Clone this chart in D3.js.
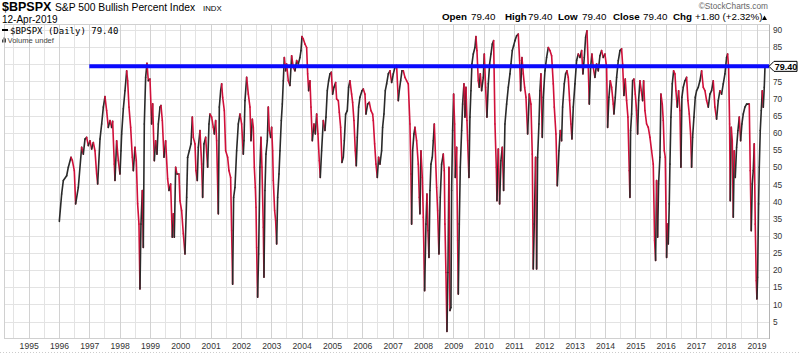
<!DOCTYPE html>
<html><head><meta charset="utf-8">
<script src="https://cdn.jsdelivr.net/npm/d3@7"></script>
<style>body{margin:0;background:#fff}svg{display:block;font-family:"Liberation Sans",Arial,sans-serif}</style>
</head><body><svg id="c" width="800" height="353"></svg>
<script>
// ---- data ----
const yearTicks = d3.range(1995, 2020);
const valueTicks = d3.range(5, 95, 5);
const lastValue = 79.40;
const refLevel = 79.40;
const refStart = 1997.0;

const p1996_2001 = [[1996.011,34.2],[1996.088,42.2],[1996.143,46.1],[1996.253,47.5],[1996.308,50.0],[1996.396,52.9],[1996.440,52.0],[1996.505,49.0],[1996.549,39.3],[1996.637,44.1],[1996.747,55.8],[1996.802,53.8],[1996.857,58.2],[1996.912,58.7],[1996.967,56.3],[1997.022,57.7],[1997.077,55.3],[1997.132,57.2],[1997.187,54.8],[1997.242,48.0],[1997.275,45.1],[1997.352,58.2],[1997.407,62.6],[1997.462,67.5],[1997.516,70.6],[1997.571,66.5],[1997.626,61.6],[1997.681,63.6],[1997.736,61.6],[1997.769,63.4],[1997.824,50.9],[1997.846,46.1],[1997.901,57.7],[1997.956,51.9],[1998.011,48.0],[1998.044,54.8],[1998.066,59.7],[1998.121,67.0],[1998.176,72.3],[1998.231,78.1],[1998.264,75.2],[1998.308,67.5],[1998.363,61.6],[1998.418,52.9],[1998.451,49.0],[1998.505,55.8],[1998.549,51.9],[1998.593,39.3],[1998.637,33.4],[1998.670,14.5],[1998.703,33.4],[1998.747,43.2],[1998.780,26.6],[1998.813,62.6],[1998.857,76.2],[1998.901,80.3],[1998.945,75.2],[1999.000,75.7],[1999.055,62.6],[1999.088,68.5],[1999.143,51.9],[1999.187,57.7],[1999.231,53.8],[1999.275,62.6],[1999.330,67.5],[1999.363,68.0],[1999.407,63.6],[1999.462,52.9],[1999.516,57.7],[1999.582,46.6],[1999.626,43.2],[1999.681,45.1],[1999.736,29.6],[1999.769,36.4],[1999.802,29.6],[1999.846,50.0],[1999.890,48.0],[1999.956,48.0],[1999.989,40.2],[2000.044,37.3],[2000.099,30.6],[2000.154,24.7],[2000.209,41.2],[2000.242,52.9],[2000.297,54.8],[2000.352,56.8],[2000.396,64.6],[2000.429,58.7],[2000.484,56.8],[2000.516,49.0],[2000.560,46.1],[2000.593,55.8],[2000.648,60.7],[2000.703,50.9],[2000.736,41.2],[2000.780,56.8],[2000.835,58.7],[2000.901,50.0],[2000.945,62.6],[2000.978,65.5],[2001.033,64.6],[2001.088,61.6],[2001.121,59.7],[2001.165,63.6],[2001.198,57.7],[2001.253,36.4],[2001.286,67.5],[2001.330,72.3],[2001.363,74.3],[2001.396,70.4],[2001.451,66.5],[2001.495,54.8],[2001.560,52.9],[2001.604,49.0],[2001.659,47.0],[2001.692,31.5],[2001.725,15.9],[2001.758,41.2],[2001.802,44.1],[2001.857,54.8],[2001.912,62.6],[2001.967,65.5]];

const p2002_2007 = [[2002.022,62.6],[2002.077,53.8],[2002.099,57.7],[2002.132,69.4],[2002.187,76.2],[2002.242,71.3],[2002.297,67.5],[2002.330,57.7],[2002.374,64.0],[2002.407,61.6],[2002.440,50.0],[2002.473,44.1],[2002.495,38.3],[2002.516,26.6],[2002.549,12.1],[2002.582,24.7],[2002.626,50.0],[2002.659,58.7],[2002.692,50.0],[2002.736,32.5],[2002.758,17.9],[2002.791,43.2],[2002.824,53.8],[2002.868,57.7],[2002.901,67.5],[2002.934,60.7],[2002.978,58.7],[2003.011,61.6],[2003.044,54.8],[2003.066,46.1],[2003.110,37.3],[2003.143,34.4],[2003.176,27.6],[2003.209,41.2],[2003.253,48.0],[2003.286,54.8],[2003.330,63.6],[2003.363,68.4],[2003.396,75.2],[2003.429,82.0],[2003.473,78.1],[2003.505,80.1],[2003.560,75.2],[2003.615,73.8],[2003.670,82.5],[2003.725,79.1],[2003.780,78.1],[2003.835,81.1],[2003.890,80.1],[2003.945,82.0],[2003.978,84.0],[2004.011,88.1],[2004.055,87.4],[2004.110,85.9],[2004.165,84.9],[2004.198,77.2],[2004.231,72.3],[2004.275,75.2],[2004.308,67.5],[2004.352,57.7],[2004.407,62.6],[2004.451,59.7],[2004.495,65.5],[2004.538,59.7],[2004.582,51.9],[2004.615,47.0],[2004.659,54.8],[2004.714,63.6],[2004.769,60.7],[2004.802,64.6],[2004.846,72.3],[2004.890,75.2],[2004.934,77.2],[2004.978,77.7],[2005.022,71.3],[2005.066,73.3],[2005.121,74.7],[2005.154,69.9],[2005.209,69.4],[2005.242,66.0],[2005.286,61.6],[2005.330,51.4],[2005.374,52.9],[2005.407,57.7],[2005.451,65.5],[2005.505,66.5],[2005.549,73.3],[2005.593,75.2],[2005.648,71.3],[2005.681,68.9],[2005.725,63.6],[2005.769,54.8],[2005.802,50.4],[2005.835,58.7],[2005.879,67.5],[2005.923,70.4],[2005.989,72.3],[2006.033,72.8],[2006.088,71.3],[2006.121,65.5],[2006.176,68.4],[2006.231,68.9],[2006.286,66.5],[2006.341,65.5],[2006.363,63.6],[2006.407,56.8],[2006.451,50.9],[2006.495,47.0],[2006.538,52.9],[2006.582,50.9],[2006.637,54.8],[2006.670,61.6],[2006.714,65.5],[2006.758,72.3],[2006.802,74.3],[2006.857,77.2],[2006.912,78.1],[2006.967,74.7],[2007.022,77.2],[2007.077,79.1],[2007.132,79.6],[2007.187,69.4],[2007.220,72.3],[2007.264,75.2],[2007.308,78.1],[2007.352,78.1],[2007.407,76.2],[2007.462,75.2],[2007.516,74.3],[2007.571,62.6],[2007.604,48.0],[2007.626,33.4],[2007.659,54.8],[2007.703,59.7],[2007.736,61.6],[2007.791,57.7],[2007.846,50.9],[2007.879,41.2],[2007.901,36.4],[2007.934,54.8],[2007.978,47.0],[2008.011,35.4],[2008.055,14.0]];

const p2008_2013 = [[2008.099,33.4],[2008.132,42.2],[2008.165,31.5],[2008.198,23.7],[2008.231,43.2],[2008.264,50.9],[2008.308,52.9],[2008.341,57.7],[2008.374,62.6],[2008.407,54.8],[2008.451,44.1],[2008.484,37.3],[2008.527,24.7],[2008.571,41.2],[2008.615,50.9],[2008.670,53.8],[2008.703,49.0],[2008.725,33.4],[2008.758,19.3],[2008.791,2.1],[2008.824,19.3],[2008.857,50.0],[2008.890,8.2],[2008.923,9.1],[2008.945,43.2],[2008.978,60.7],[2009.011,71.3],[2009.044,62.6],[2009.066,47.0],[2009.110,55.8],[2009.143,28.6],[2009.165,13.0],[2009.198,33.4],[2009.231,50.0],[2009.275,60.7],[2009.308,68.4],[2009.352,74.3],[2009.385,64.6],[2009.418,73.3],[2009.451,63.6],[2009.473,57.7],[2009.516,47.0],[2009.549,64.6],[2009.582,72.3],[2009.615,80.1],[2009.659,83.0],[2009.714,84.9],[2009.747,88.1],[2009.780,84.0],[2009.824,75.2],[2009.857,73.3],[2009.890,77.2],[2009.934,72.3],[2009.989,76.2],[2010.022,83.0],[2010.066,73.3],[2010.110,64.6],[2010.154,74.3],[2010.198,80.1],[2010.242,83.0],[2010.286,85.9],[2010.330,86.9],[2010.374,62.6],[2010.418,50.0],[2010.440,40.2],[2010.484,55.3],[2010.527,39.3],[2010.571,51.9],[2010.615,55.8],[2010.659,43.2],[2010.703,62.6],[2010.758,68.4],[2010.813,73.3],[2010.868,77.2],[2010.901,80.1],[2010.945,84.0],[2010.989,85.4],[2011.033,86.9],[2011.088,88.3],[2011.143,88.8],[2011.187,81.1],[2011.220,72.3],[2011.264,82.0],[2011.308,77.2],[2011.352,73.3],[2011.396,70.4],[2011.451,59.7],[2011.505,71.3],[2011.560,68.4],[2011.604,53.8],[2011.637,20.3],[2011.670,33.4],[2011.714,52.9],[2011.747,20.3],[2011.780,52.9],[2011.824,62.6],[2011.857,72.3],[2011.890,77.2],[2011.934,58.7],[2011.967,70.4],[2012.022,78.1],[2012.077,82.0],[2012.132,84.9],[2012.187,84.0],[2012.242,82.5],[2012.297,74.3],[2012.330,67.5],[2012.385,59.7],[2012.429,44.6],[2012.484,54.8],[2012.527,60.7],[2012.571,57.7],[2012.604,67.5],[2012.659,74.3],[2012.703,77.2],[2012.747,78.1],[2012.791,76.2],[2012.835,69.4],[2012.879,62.6],[2012.912,58.2],[2012.956,67.5],[2013.011,74.3],[2013.066,81.1],[2013.121,83.0],[2013.176,82.0],[2013.231,84.0],[2013.275,77.2],[2013.319,82.0],[2013.363,87.9],[2013.407,89.8],[2013.451,79.1],[2013.484,68.4],[2013.527,79.1],[2013.571,83.0],[2013.615,79.1],[2013.670,76.2],[2013.725,80.1],[2013.780,78.1],[2013.835,82.5],[2013.890,84.0],[2013.945,82.0],[2014.000,83.0]];

const p2014_2019 = [[2014.055,79.1],[2014.088,61.6],[2014.132,70.4],[2014.176,75.2],[2014.220,73.3],[2014.275,68.4],[2014.297,65.5],[2014.341,70.4],[2014.385,76.2],[2014.440,81.1],[2014.495,84.0],[2014.549,84.5],[2014.582,80.1],[2014.626,70.9],[2014.670,75.7],[2014.714,69.4],[2014.758,64.6],[2014.802,49.0],[2014.824,41.2],[2014.846,60.7],[2014.879,65.5],[2014.912,75.2],[2014.956,75.7],[2015.000,71.3],[2015.044,66.5],[2015.077,59.7],[2015.110,69.4],[2015.154,75.2],[2015.198,72.3],[2015.242,69.4],[2015.275,75.2],[2015.319,66.5],[2015.374,62.6],[2015.429,61.6],[2015.484,58.7],[2015.538,54.8],[2015.593,50.9],[2015.637,28.6],[2015.670,22.8],[2015.703,46.1],[2015.736,29.6],[2015.769,45.1],[2015.813,52.9],[2015.846,71.3],[2015.890,68.4],[2015.923,63.6],[2015.956,54.8],[2015.989,52.9],[2016.033,23.7],[2016.055,33.4],[2016.088,27.6],[2016.121,39.3],[2016.143,50.9],[2016.176,64.6],[2016.220,74.3],[2016.264,78.1],[2016.308,77.2],[2016.341,72.3],[2016.385,67.5],[2016.429,72.3],[2016.473,66.5],[2016.505,50.0],[2016.538,70.4],[2016.582,73.3],[2016.637,75.2],[2016.692,76.2],[2016.736,69.4],[2016.780,65.5],[2016.824,59.7],[2016.857,50.0],[2016.890,58.7],[2016.934,64.6],[2016.978,70.4],[2017.022,72.3],[2017.077,73.3],[2017.132,75.2],[2017.187,78.1],[2017.242,73.3],[2017.297,72.3],[2017.352,69.4],[2017.407,67.5],[2017.462,71.3],[2017.516,72.3],[2017.571,75.2],[2017.626,67.5],[2017.681,64.0],[2017.736,69.4],[2017.791,72.3],[2017.846,71.3],[2017.901,74.3],[2017.956,77.2],[2018.011,82.0],[2018.044,83.0],[2018.077,79.1],[2018.110,62.6],[2018.132,40.2],[2018.165,61.6],[2018.198,57.7],[2018.231,35.4],[2018.264,54.8],[2018.297,47.0],[2018.341,55.8],[2018.385,60.7],[2018.429,64.6],[2018.473,57.7],[2018.516,62.6],[2018.560,65.5],[2018.615,67.5],[2018.670,68.4],[2018.725,68.4],[2018.758,68.4],[2018.791,49.0],[2018.824,31.5],[2018.857,45.1],[2018.890,49.0],[2018.923,56.8],[2018.956,33.4],[2018.989,16.9],[2019.011,11.6],[2019.033,17.9],[2019.066,39.3],[2019.088,50.0],[2019.121,60.7],[2019.154,66.5],[2019.187,72.3],[2019.220,67.5],[2019.253,73.3],[2019.277,79.4]];

const series = [].concat(p1996_2001, p2002_2007, p2008_2013, p2014_2019);

// ---- layout ----
const svg = d3.select("#c");
const L = 4, R = 769, T = 24, B = 338;
const x = d3.scaleLinear().domain([1994.187, 2019.409]).range([L, R]);
const y = d3.scaleLinear().domain([0.2, 91.75]).range([B, T]);

// grid
const g = svg.append("g");
g.selectAll("line.h").data(valueTicks).join("line")
  .attr("x1", L).attr("x2", R).attr("y1", d => Math.round(y(d)) + 0.5).attr("y2", d => Math.round(y(d)) + 0.5)
  .attr("stroke", "#e3e3e3");
const halfYears = d3.range(1994.5, 2019.01, 0.5);
g.selectAll("line.v").data(halfYears).join("line")
  .attr("y1", T).attr("y2", B).attr("x1", d => Math.round(x(d)) + 0.5).attr("x2", d => Math.round(x(d)) + 0.5)
  .attr("stroke", d => Number.isInteger(d) ? "#d2d2d2" : "#e3e3e3");
svg.append("rect").attr("x", L + 0.5).attr("y", T + 0.5).attr("width", R - L).attr("height", B - T)
  .attr("fill", "none").attr("stroke", "#d0d0d0");

// axes (the 80 label sits under the price tag in the reference)
const yAxis = svg.append("g").attr("transform", `translate(${R},0)`)
  .call(d3.axisRight(y).tickValues(valueTicks.filter(v => Math.abs(v - lastValue) > 3)).tickSize(0).tickPadding(4));
yAxis.select(".domain").attr("stroke", "#999").attr("stroke-dasharray", "1,1");
yAxis.selectAll("text").attr("font-size", 8.3).attr("fill", "#333").attr("font-family", "Liberation Sans, Arial, sans-serif");

const xAxis = svg.append("g").attr("transform", `translate(0,${B})`)
  .call(d3.axisBottom(x).tickValues(yearTicks).tickFormat(d3.format("d")).tickSize(0).tickPadding(4.7));
xAxis.select(".domain").remove();
xAxis.selectAll("text").attr("font-size", 8.6).attr("fill", "#333").attr("font-family", "Liberation Sans, Arial, sans-serif");

svg.append("line").attr("x1", 0).attr("x2", 800).attr("y1", 352.5).attr("y2", 352.5)
  .attr("stroke", "#ccc").attr("stroke-dasharray", "1,2");

// series, each segment coloured by direction
const up = "#2a2a2a", down = "#d0103a";
svg.append("g").selectAll("line").data(d3.pairs(series)).join("line")
  .attr("x1", d => x(d[0][0])).attr("y1", d => y(d[0][1]))
  .attr("x2", d => x(d[1][0])).attr("y2", d => y(d[1][1]))
  .attr("stroke", d => d[1][1] >= d[0][1] ? up : down)
  .attr("stroke-width", 1.6).attr("stroke-linecap", "round");

// reference line
svg.append("line").attr("x1", x(refStart)).attr("x2", R)
  .attr("y1", y(refLevel)).attr("y2", y(refLevel))
  .attr("stroke", "#0a0aff").attr("stroke-width", 4);

// price tag
const ty = y(lastValue);
svg.append("path")
  .attr("d", `M${R},${ty} L${R + 5},${ty - 5} L797,${ty - 5} L797,${ty + 5} L${R + 5},${ty + 5} Z`)
  .attr("fill", "#fff").attr("stroke", "#000").attr("stroke-width", 1);
svg.append("text").attr("x", 786).attr("y", ty + 3.3).attr("text-anchor", "middle")
  .attr("font-size", 9).attr("font-weight", "bold").text(d3.format(".2f")(lastValue));

// header
const hdr = svg.append("g").attr("fill", "#000");
hdr.append("text").attr("x", 2).attr("y", 11).attr("font-size", 12.5).attr("font-weight", "bold").text("$BPSPX");
hdr.append("text").attr("x", 55).attr("y", 11).attr("font-size", 10.3).text("S&P 500 Bullish Percent Index");
hdr.append("text").attr("x", 203).attr("y", 11).attr("font-size", 7.8).text("INDX");
hdr.append("text").attr("x", 2).attr("y", 22.8).attr("font-size", 10).text("12-Apr-2019");

// legend
svg.append("line").attr("x1", 2).attr("x2", 8).attr("y1", 30).attr("y2", 30).attr("stroke", "#000").attr("stroke-width", 2);
svg.append("text").attr("x", 10).attr("y", 33.5).attr("font-size", 9)
  .attr("font-family", "DejaVu Sans Mono, monospace").text(`$BPSPX (Daily) ${d3.format(".2f")(lastValue)}`);
const vIcon = svg.append("g").attr("fill", "#444");
[[2,39.5,1,3],[3.5,37.5,1,5],[5,38.5,1,4]].forEach(r => vIcon.append("rect").attr("x", r[0]).attr("y", r[1]).attr("width", r[2]).attr("height", r[3]));
svg.append("text").attr("x", 7.5).attr("y", 42.6).attr("font-size", 7.6).attr("fill", "#444").text("Volume undef");

// top-right
svg.append("text").attr("x", 768).attr("y", 8.5).attr("text-anchor", "end").attr("font-size", 8.3).attr("fill", "#666").text("\u00A9StockCharts.com");
const ohlc = [["Open", 442, true], ["79.40", 471, false], ["High", 505, true], ["79.40", 528, false],
  ["Low", 558, true], ["79.40", 582, false], ["Close", 613, true], ["79.40", 643, false],
  ["Chg", 673, true], ["+1.80 (+2.32%)", 695, false]];
svg.selectAll("text.ohlc").data(ohlc).join("text").attr("class", "ohlc")
  .attr("x", d => d[1]).attr("y", 20).attr("font-size", 9.8)
  .attr("font-weight", d => d[2] ? "bold" : "normal").text(d => d[0]);
svg.append("path").attr("d", "M762,20 L767,20 L764.5,15.5 Z").attr("fill", "#000");
</script></body></html>
